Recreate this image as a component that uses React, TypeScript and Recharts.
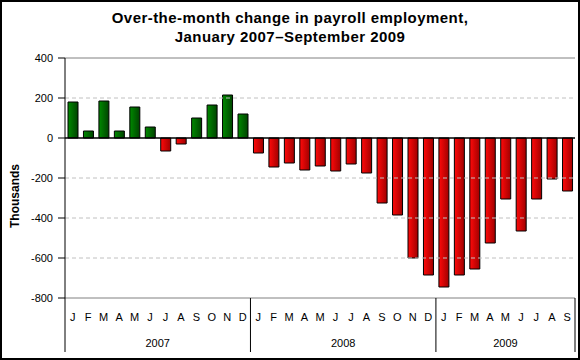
import React from "react";
import {
  Bar, BarChart, Cell, Label, ReferenceLine, XAxis, YAxis,
} from "recharts";

const monthLetters = ["J", "F", "M", "A", "M", "J", "J", "A", "S", "O", "N", "D"];
const years = ["2007", "2008", "2009"];
const monthsPerYear = [12, 12, 9];

// over-the-month change, thousands
const changes = [
  180, 35, 185, 35, 155, 55, -65, -30, 100, 165, 215, 120,
  -75, -145, -125, -160, -140, -165, -130, -175, -325, -385, -600, -685,
  -745, -685, -655, -525, -305, -465, -305, -205, -265,
];

const yTicks = [400, 200, 0, -200, -400, -600, -800];
const gridLines = [200, -200, -400, -600];

const data = (() => {
  const rows: { key: string; m: string; year: string; start: number; n: number; v: number }[] = [];
  let i = 0;
  years.forEach((y, yi) => {
    const start = i;
    for (let k = 0; k < monthsPerYear[yi]; k++) {
      rows.push({ key: `${y}-${k}`, m: monthLetters[k], year: y, start, n: monthsPerYear[yi], v: changes[i] });
      i++;
    }
  });
  return rows;
})();

const W = 580;
const H = 360;
const LEFT = 65;
const RIGHT = 5;
const BAND = (W - LEFT - RIGHT) / data.length;
const FONT = "'Liberation Sans', Arial, sans-serif";

function MonthTick(props: any) {
  const { x, y, payload, index } = props;
  const row = data[index ?? payload.index];
  if (!row) return null;
  const first = index === row.start;
  const last = index === data.length - 1;
  const yearX = x + ((row.n - 1) / 2) * BAND;
  return (
    <g>
      <text x={x} y={y + 23} textAnchor="middle" fontSize={11} fill="#000" fontFamily={FONT}>
        {row.m}
      </text>
      {first && (
        <>
          <line x1={x - BAND / 2} x2={x - BAND / 2} y1={y} y2={y + 54} stroke="#000" />
          <text x={yearX} y={y + 49} textAnchor="middle" fontSize={11} fill="#000" fontFamily={FONT}>
            {row.year}
          </text>
        </>
      )}
      {last && <line x1={x + BAND / 2} x2={x + BAND / 2} y1={y} y2={y + 54} stroke="#000" />}
    </g>
  );
}

export default function App() {
  return (
    <div style={{ position: "relative", width: W, height: H, fontFamily: FONT, background: "#fff" }}>
      <style>{"body{margin:0}"}</style>
      <div
        style={{
          position: "absolute", left: 0, top: 8, width: W, textAlign: "center",
          fontWeight: "bold", fontSize: 15, letterSpacing: 0.45, lineHeight: "19px", color: "#000",
        }}
      >
        Over-the-month change in payroll employment,
        <br />
        January 2007–September 2009
      </div>
      <BarChart
        width={W} height={H} data={data}
        margin={{ top: 58, right: RIGHT, bottom: 0, left: 0 }}
        barSize={10}
        style={{ position: "absolute", left: 0, top: 0 }}
      >
        <defs>
          <linearGradient id="gGreen" x1="0" y1="0" x2="1" y2="0">
            <stop offset="0%" stopColor="#008a00" />
            <stop offset="100%" stopColor="#004400" />
          </linearGradient>
          <linearGradient id="gRed" x1="0" y1="0" x2="1" y2="0">
            <stop offset="0%" stopColor="#ff0a0a" />
            <stop offset="100%" stopColor="#a00000" />
          </linearGradient>
        </defs>
        <XAxis
          dataKey="key" height={62} interval={0}
          axisLine={false} tickLine={false} tickSize={0} tickMargin={0}
          tick={<MonthTick />}
        />
        <YAxis
          yAxisId="l" width={LEFT} domain={[-800, 400]} ticks={yTicks}
          allowDataOverflow tickSize={7} tickMargin={5}
          axisLine={{ stroke: "#000" }} tickLine={{ stroke: "#000" }}
          tick={{ fontSize: 11, fill: "#000", fontFamily: FONT }}
        >
          <Label
            content={() => (
              <text
                x={15} y={196} transform="rotate(-90 15 196)"
                textAnchor="middle" dominantBaseline="central"
                fontSize={12} fontWeight="bold" fill="#000" fontFamily={FONT}
              >
                Thousands
              </text>
            )}
          />
        </YAxis>
        <YAxis
          yAxisId="r" orientation="right" width={0} domain={[-800, 400]}
          tick={false} tickLine={false} axisLine={{ stroke: "#808080" }}
        />
        {gridLines.map((g) => (
          <ReferenceLine key={g} yAxisId="l" y={g} stroke="#c0c0c0" strokeDasharray="4 3" />
        ))}
        <ReferenceLine yAxisId="l" y={400} stroke="#808080" />
        <ReferenceLine yAxisId="l" y={-800} stroke="#808080" />
        <Bar yAxisId="l" dataKey="v" stroke="#000" strokeWidth={1} isAnimationActive={false}>
          {data.map((d) => (
            <Cell key={d.key} fill={d.v >= 0 ? "url(#gGreen)" : "url(#gRed)"} />
          ))}
        </Bar>
        <ReferenceLine yAxisId="l" y={0} stroke="#000" strokeWidth={1.5} />
      </BarChart>
      <div
        style={{
          position: "absolute", inset: 0, border: "2px solid #000",
          pointerEvents: "none", boxSizing: "border-box",
        }}
      />
    </div>
  );
}
